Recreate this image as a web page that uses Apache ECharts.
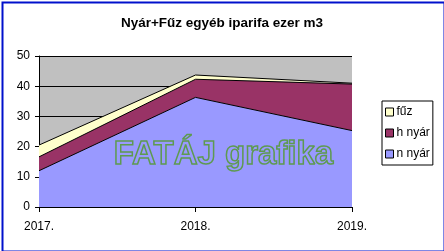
<!DOCTYPE html>
<html><head><meta charset="utf-8">
<script src="https://cdn.jsdelivr.net/npm/echarts@6/dist/echarts.min.js"></script>
<style>html,body{margin:0;padding:0;background:#fff}#c{width:444px;height:251px}</style>
</head><body><div id="c"></div>
<script>
const categories = ['2017.', '2018.', '2019.'];
const nNyar = [12, 36.3, 25.3];
const hNyar = [4.6, 6, 15.4];
const fuz = [3.9, 1.4, 0.3];
const yTicks = [0, 10, 20, 30, 40, 50];

const chart = echarts.init(document.getElementById('c'));
const font = 'Liberation Sans, Arial, sans-serif';
function s(name, data, color) {
  return {
    name, type: 'line', stack: 'a', data, symbol: 'none',
    lineStyle: { color: '#000', width: 1 },
    areaStyle: { color, opacity: 1 },
    itemStyle: { color, borderColor: '#000', borderWidth: 1 },
    emphasis: { disabled: true }, animation: false
  };
}
chart.setOption({
  animation: false,
  textStyle: { fontFamily: font },
  title: {
    text: 'Nyár+Fűz egyéb iparifa ezer m3', left: 'center', top: 11,
    textStyle: { fontSize: 13.5, fontWeight: 'bold', color: '#000', fontFamily: font }
  },
  legend: {
    orient: 'vertical', left: 382, top: 101, width: 55,
    data: ['fűz', 'h nyár', 'n nyár'],
    icon: 'rect', itemWidth: 8, itemHeight: 8, itemGap: 9,
    padding: [5, 3, 5, 3],
    borderColor: '#000', borderWidth: 1, backgroundColor: '#fff',
    itemStyle: { borderColor: '#000', borderWidth: 1 },
    textStyle: { fontSize: 12, color: '#000', fontFamily: font, padding: [0, 0, 0, -2] }
  },
  grid: { left: 39, top: 56, width: 313, height: 151, show: true, backgroundColor: '#C0C0C0', borderWidth: 0 },
  xAxis: {
    type: 'category', data: categories, boundaryGap: false,
    axisLine: { lineStyle: { color: '#000', width: 1 } },
    axisTick: { show: true, length: 5, inside: false, lineStyle: { color: '#000' } },
    axisLabel: { fontSize: 12, color: '#000', margin: 14, fontFamily: font },
    splitLine: { show: false }
  },
  yAxis: {
    type: 'value', min: 0, max: 50, interval: 10,
    axisLine: { show: true, lineStyle: { color: '#000', width: 1 } },
    axisTick: { show: true, length: 4, lineStyle: { color: '#000' } },
    axisLabel: { fontSize: 12, color: '#000', margin: 9, fontFamily: font,
      formatter: v => yTicks.includes(v) ? String(v) : '' },
    splitLine: { show: true, lineStyle: { color: '#000', width: 1 } }
  },
  series: [s('n nyár', nNyar, '#9999FF'), s('h nyár', hNyar, '#993366'), s('fűz', fuz, '#FFFFCC')],
  graphic: [
    { type: 'text', left: 113, top: 138, z: 100, silent: true,
      style: { text: 'FATÁJ grafika', font: 'bold 33px ' + font, fill: 'rgba(0,0,0,0)', stroke: '#5E9A50', lineWidth: 1.5 } },
    { type: 'rect', left: 0, top: 0, z: 100, silent: true,
      shape: { x: 1, y: 1, width: 442, height: 249 },
      style: { fill: 'none', stroke: '#0010CC', lineWidth: 2 } }
  ]
});
</script></body></html>
